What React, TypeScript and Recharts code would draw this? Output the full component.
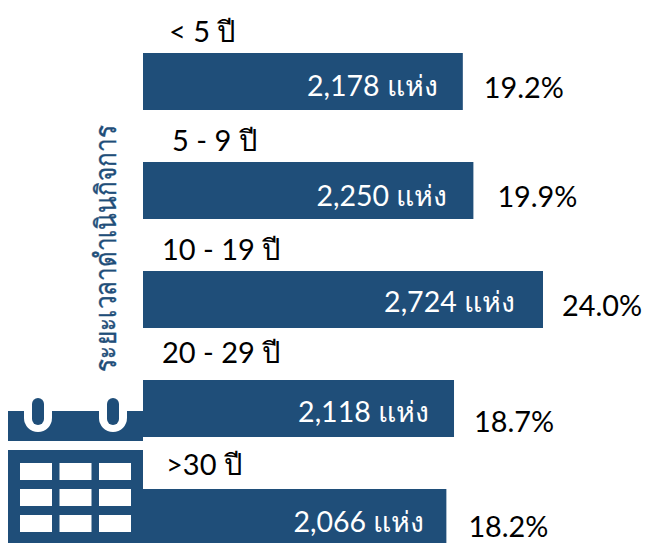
import { BarChart, Bar, XAxis, YAxis, LabelList } from 'recharts'

const ageGroups = ['< 5 ปี', '5 - 9 ปี', '10 - 19 ปี', '20 - 29 ปี', '>30 ปี']
const siteCounts = [2178, 2250, 2724, 2118, 2066]
const sharePct = [19.2, 19.9, 24.0, 18.7, 18.2]
const axisTitle = 'ระยะเวลาดำเนินกิจการ'

const data = ageGroups.map((group, i) => ({
  group,
  count: siteCounts[i],
  share: sharePct[i],
}))

const BLUE = '#1f4e79'
const FONT = 'Lato, "Noto Sans", sans-serif'

// hand nudges, the source slide placed these text boxes by hand
const groupNudge = [
  [26, -11],
  [29, -11],
  [19, -11],
  [19, -17],
  [23, -14],
]
const countNudge = [
  [-25, 14],
  [-26, 15],
  [-28, 12],
  [-25, 13],
  [-22, 14],
]
const shareNudge = [
  [21, 16],
  [24, 16],
  [19, 16],
  [20, 23],
  [22, 19],
]

const GroupLabel = (props: any) => {
  const { x, y, index, value } = props
  return (
    <text x={x + groupNudge[index][0]} y={y + groupNudge[index][1]} fontSize={29} fill="#000" fontFamily={FONT}>
      {value}
    </text>
  )
}

const CountLabel = (props: any) => {
  const { x, y, width, height, index, value } = props
  return (
    <text
      x={x + width + countNudge[index][0]}
      y={y + height / 2 + countNudge[index][1]}
      textAnchor="end"
      fontSize={28.5}
      fill="#fff"
      fontFamily={FONT}
    >
      {value.toLocaleString('en-US')} แห่ง
    </text>
  )
}

const ShareLabel = (props: any) => {
  const { x, y, width, height, index, value } = props
  return (
    <text
      x={x + width + shareNudge[index][0]}
      y={y + height / 2 + shareNudge[index][1]}
      fontSize={28.8}
      fill="#000"
      fontFamily={FONT}
    >
      {value.toFixed(1)}%
    </text>
  )
}

const CalendarIcon = () => {
  const cells = []
  for (let r = 0; r < 3; r++) {
    for (let c = 0; c < 3; c++) {
      cells.push(<rect key={`${r}-${c}`} x={20 + c * 39.5} y={463 + r * 26} width={32} height={17} fill="#fff" />)
    }
  }
  return (
    <svg width={646} height={543} style={{ position: 'absolute', left: 0, top: 0 }}>
      <rect x={8} y={411} width={135} height={30} fill={BLUE} />
      {[38, 113].map((cx) => (
        <g key={cx}>
          <path d={`M${cx - 14} 411 V418 a14 14 0 0 0 28 0 V411 Z`} fill="#fff" />
          <rect x={cx - 6} y={398} width={12} height={27} rx={6} fill={BLUE} />
        </g>
      ))}
      <rect x={8} y={450} width={135} height={93} fill={BLUE} />
      {cells}
    </svg>
  )
}

const App = () => {
  return (
    <div style={{ position: 'absolute', left: 0, top: 0, width: 646, height: 543, overflow: 'hidden', background: '#fff' }}>
      <CalendarIcon />
      <div style={{ position: 'absolute', left: 0, top: 0 }}>
        <BarChart
          width={646}
          height={572}
          data={data}
          layout="vertical"
          margin={{ top: 27, right: 103, bottom: 0, left: 143 }}
        >
          <XAxis type="number" domain={[0, 2724]} hide />
          <YAxis type="category" dataKey="group" hide />
          <Bar dataKey="count" fill={BLUE} barSize={57} isAnimationActive={false}>
            <LabelList dataKey="group" content={GroupLabel} />
            <LabelList dataKey="count" content={CountLabel} />
            <LabelList dataKey="share" content={ShareLabel} />
          </Bar>
          <text
            x={116}
            y={248.5}
            textAnchor="middle"
            fontSize={29}
            textLength={247}
            lengthAdjust="spacingAndGlyphs"
            fill={BLUE}
            stroke={BLUE}
            strokeWidth={0.4}
            fontFamily={FONT}
            transform="rotate(-90 116 248.5)"
          >
            {axisTitle}
          </text>
        </BarChart>
      </div>
    </div>
  )
}

export default App
